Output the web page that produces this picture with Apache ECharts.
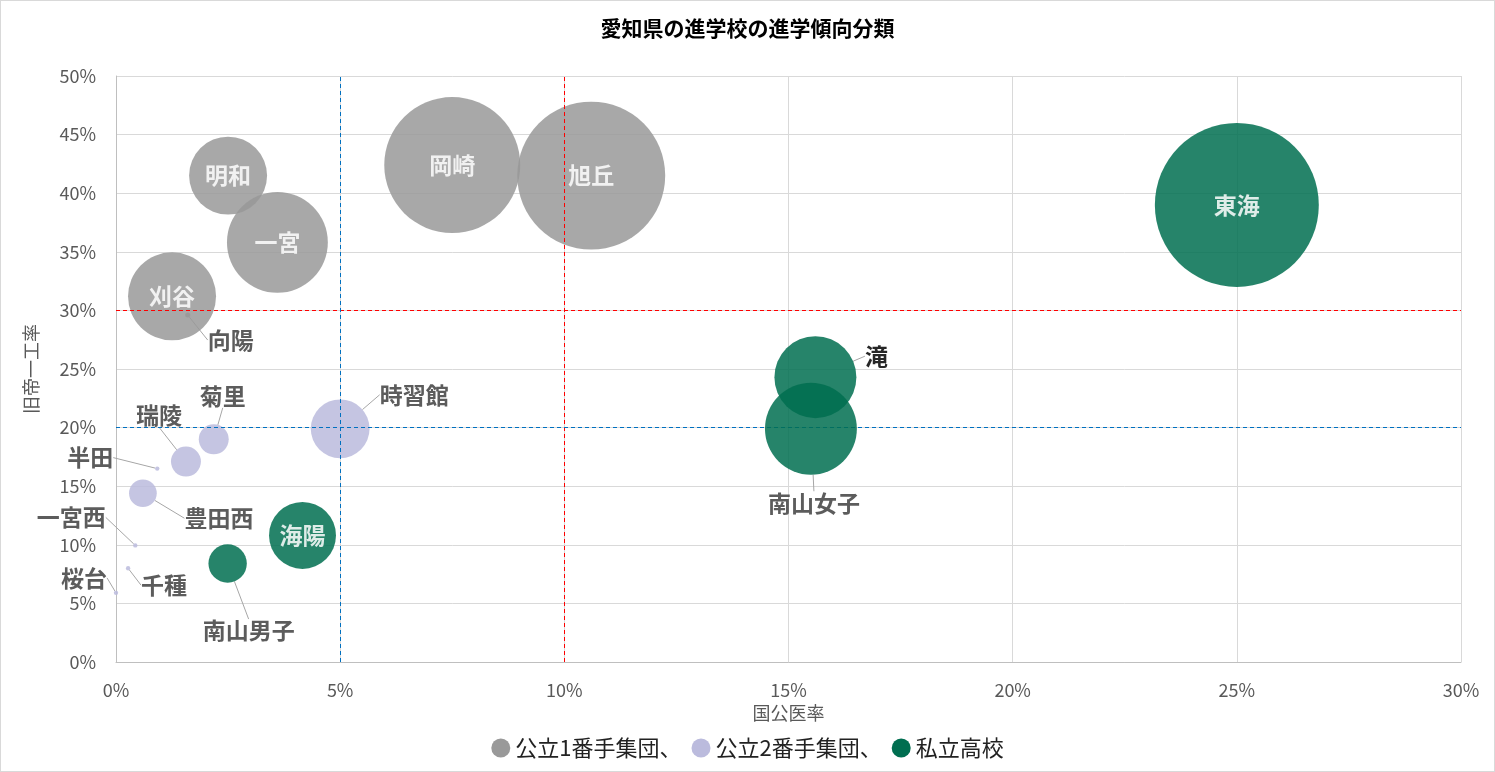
<!DOCTYPE html>
<html>
<head>
<meta charset="utf-8">
<script src="https://cdn.jsdelivr.net/npm/echarts@6/dist/echarts.min.js"></script>
<style>
  html, body { margin: 0; padding: 0; background: #fff; }
  #main { width: 1493px; height: 770px; border: 1px solid #d9d9d9; }
</style>
</head>
<body>
<div id="main"></div>
<script>
// 公立1番手集団
const group1Names = ['岡崎', '旭丘', '明和', '一宮', '刈谷', '向陽']
const group1X = [7.5, 10.6, 2.5, 3.6, 1.25, 1.6]
const group1Y = [42.4, 41.5, 41.5, 35.8, 31.2, 29.6]
const group1Size = [289, 342, 95, 159, 121, 0.4]

// 公立2番手集団
const group2Names = ['時習館', '菊里', '瑞陵', '半田', '豊田西', '一宮西', '千種', '桜台']
const group2X = [5.0, 2.18, 1.56, 0.92, 0.6, 0.43, 0.27, 0]
const group2Y = [19.9, 19.0, 17.1, 16.5, 14.4, 9.95, 8.0, 5.9]
const group2Size = [54, 14, 14, 0.3, 12, 0.3, 0.3, 0.3]

// 私立高校
const group3Names = ['東海', '滝', '南山女子', '海陽', '南山男子']
const group3X = [25.0, 15.6, 15.5, 4.16, 2.49]
const group3Y = [39.0, 24.3, 19.9, 10.8, 8.4]
const group3Size = [420, 105, 132, 70, 23]

const seriesNames = ['公立1番手集団、', '公立2番手集団、', '私立高校']
const xTicks = [0, 5, 10, 15, 20, 25, 30]
const yTicks = [0, 5, 10, 15, 20, 25, 30, 35, 40, 45, 50]
const blueLinesX = [5]
const redLinesX = [10]
const blueLinesY = [20]
const redLinesY = [30]

// ラベルのずらし量 (px)
const labelOffset = {
  '向陽': [43, 25], '時習館': [74, -34], '菊里': [9, -43], '瑞陵': [-27, -46],
  '半田': [-67, -11], '豊田西': [76, 25], '一宮西': [-64, -28], '千種': [36, 17],
  '桜台': [-32, -15], '南山男子': [21, 67], '滝': [61, -21], '南山女子': [3, 74]
}
const colors = ['#999999', '#bbbbdd', '#006e50']

function build(names, xs, ys, sizes) {
  return names.map((n, i) => {
    const off = labelOffset[n]
    return {
      name: n,
      value: [xs[i], ys[i], sizes[i]],
      label: { color: off ? (n === '滝' ? '#000' : '#404040') : '#fff' },
      labelLine: { show: !!off }
    }
  })
}

const chart = echarts.init(document.getElementById('main'))
const font = 'Noto Sans CJK JP'

const mk = (color) => ({
  silent: true, symbol: 'none', label: { show: false },
  lineStyle: { color, type: [4, 3], width: 1 }
})

const baseSeries = (name, data, color, idx) => ({
  name,
  type: 'scatter',
  data,
  symbolSize: v => Math.sqrt(v[2]) * 8,
  itemStyle: { color, opacity: 0.85 },
  emphasis: { disabled: true },
  label: {
    show: true, position: 'inside', formatter: '{b}',
    fontFamily: font, fontSize: 23, fontWeight: 'bold'
  },
  labelLine: { show: false, lineStyle: { color: '#a6a6a6', width: 1 } },
  labelLayout: p => {
    const off = labelOffset[p.text]
    return off ? { dx: off[0], dy: off[1] } : {}
  },
  z: 3 + idx
})

const s1 = baseSeries(seriesNames[0], build(group1Names, group1X, group1Y, group1Size), colors[0], 0)
const s2 = baseSeries(seriesNames[1], build(group2Names, group2X, group2Y, group2Size), colors[1], 1)
const s3 = baseSeries(seriesNames[2], build(group3Names, group3X, group3Y, group3Size), colors[2], 2)

s1.markLine = Object.assign(mk('#ff0000'), {
  data: redLinesX.map(v => ({ xAxis: v })).concat(redLinesY.map(v => ({ yAxis: v })))
})
s2.markLine = Object.assign(mk('#0070c0'), {
  data: blueLinesX.map(v => ({ xAxis: v })).concat(blueLinesY.map(v => ({ yAxis: v })))
})

chart.setOption({
  animation: false,
  title: {
    text: '愛知県の進学校の進学傾向分類',
    left: 'center', top: 12,
    textStyle: { fontFamily: font, fontSize: 21, fontWeight: 'bold', color: '#000' }
  },
  legend: {
    bottom: 7, left: 'center',
    icon: 'circle', itemWidth: 19, itemHeight: 19, itemGap: 10,
    textStyle: { fontFamily: font, fontSize: 22, color: '#222' },
    data: seriesNames.map((n, i) => ({ name: n, itemStyle: { color: colors[i], opacity: 1 } }))
  },
  grid: { left: 115, right: 33, top: 75, bottom: 109 },
  xAxis: {
    type: 'value', min: xTicks[0], max: xTicks[xTicks.length - 1], interval: 5,
    name: '国公医率', nameLocation: 'middle', nameGap: 40,
    nameTextStyle: { fontFamily: font, fontSize: 18, color: '#595959' },
    axisLine: { show: true, lineStyle: { color: '#bfbfbf' } },
    axisTick: { show: false },
    axisLabel: { formatter: '{value}%', fontFamily: font, fontSize: 18, color: '#595959', margin: 19 },
    splitLine: { show: true, lineStyle: { color: '#d9d9d9' } }
  },
  yAxis: {
    type: 'value', min: yTicks[0], max: yTicks[yTicks.length - 1], interval: 5,
    name: '旧帝一工率', nameLocation: 'middle', nameGap: 76,
    nameTextStyle: { fontFamily: font, fontSize: 18, color: '#595959' },
    axisLine: { show: true, lineStyle: { color: '#bfbfbf' } },
    axisTick: { show: false },
    axisLabel: { formatter: '{value}%', fontFamily: font, fontSize: 18, color: '#595959', margin: 20 },
    splitLine: { show: true, lineStyle: { color: '#d9d9d9' } }
  },
  series: [s1, s2, s3]
})
</script>
</body>
</html>
